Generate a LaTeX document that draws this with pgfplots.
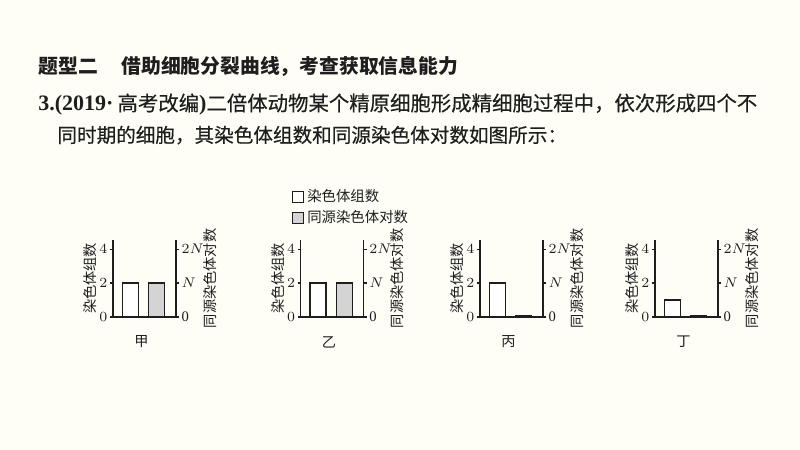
\documentclass[border=0pt]{standalone}
\usepackage{fontspec}
\setmainfont{Liberation Serif}
\newfontfamily\cjk{Noto Sans CJK SC}
\newfontfamily\cjkm{Noto Sans CJK SC}[FakeBold=0.4]
\usepackage{pgfplots}
\pgfplotsset{compat=1.18}
\definecolor{bg}{RGB}{254,254,247}
\definecolor{ink}{RGB}{30,30,30}
\definecolor{barg}{RGB}{212,212,212}
\newcommand{\cf}{\cjk\fontsize{7.1}{8}\selectfont}

\pgfplotsset{
  panel/.style={
    scale only axis, width=31.5pt, height=38.5pt,
    xmin=0.35, xmax=2.72, ymin=0,
    anchor=south west,
    xtick=\empty,
    tick align=outside, major tick length=1.6pt,
    axis line style={-, ink, line width=0.6pt},
    tick style={ink, line width=0.6pt},
    ticklabel style={font=\fontsize{7.3}{8}\selectfont, text=ink},
    yticklabel style={inner sep=1pt},
    ybar, bar width=8pt,
    clip=false,
  },
  leftp/.style={panel, ymax=4.54, ytick={0,2,4},
    axis y line*=left, axis x line*=bottom,
    every axis y label/.style={at={(axis description cs:-0.365,0.5)}, rotate=90, anchor=center, font=\cf, text=ink},
    every axis x label/.style={at={(axis description cs:0.45,-0.325)}, anchor=center, font=\cf, text=ink},
  },
  rightp/.style={panel, ymax=2.27, ytick={0,1,2}, yticklabels={0,$N$,$2N$},
    axis y line*=right, axis x line=none,
    every axis y label/.style={at={(axis description cs:1.535,0.5)}, rotate=90, anchor=center, font=\cf, text=ink},
  },
  sqleg/.style={legend image code/.code={\draw[##1, line width=0.5pt] (0pt,-2.6pt) rectangle (5.2pt,2.6pt);}},
}

\begin{document}
\begin{tikzpicture}
\fill[bg] (0,0) rectangle (400pt,225pt);
\useasboundingbox (0,0) rectangle (400pt,225pt);

\node[anchor=base west, inner sep=0pt, text=ink, font=\cjk\bfseries\fontsize{9.9}{12}\selectfont] at (19pt,188.3pt) {题型二\hspace{1.2em}借助细胞分裂曲线，考查获取信息能力};
\node[anchor=base west, inner sep=0pt, text=ink, font=\cjkm\fontsize{10.2}{12}\selectfont] at (19pt,169.6pt) {{\rmfamily\bfseries\fontsize{11}{12}\selectfont 3.(2019·\kern2pt}高考改编{\rmfamily\bfseries\fontsize{11}{12}\selectfont )}二倍体动物某个精原细胞形成精细胞过程中，依次形成四个不};
\node[anchor=base west, inner sep=0pt, text=ink, font=\cjkm\fontsize{9.8}{12}\selectfont] at (28.5pt,153.8pt) {同时期的细胞，其染色体组数和同源染色体对数如图所示：};

% panel 甲
\begin{axis}[leftp, at={(56.5pt,66.5pt)}, ylabel={染色体组数}, xlabel={甲}]
\addplot[fill=white, draw=ink, line width=0.6pt] coordinates {(1,2)};
\end{axis}
\begin{axis}[rightp, at={(56.5pt,66.5pt)}, ylabel={同源染色体对数}]
\addplot[fill=barg, draw=ink, line width=0.6pt] coordinates {(2,1)};
\end{axis}

% panel 乙
\begin{axis}[leftp, at={(150.35pt,66.5pt)}, ylabel={染色体组数}, xlabel={乙}]
\addplot[fill=white, draw=ink, line width=0.6pt] coordinates {(1,2)};
\end{axis}
\begin{axis}[rightp, at={(150.35pt,66.5pt)}, ylabel={同源染色体对数},
  legend style={at={(axis description cs:-0.14,1.66)}, anchor=north west, draw=none, fill=none,
    font=\cjk\fontsize{7.2}{8}\selectfont, text=ink, inner sep=0pt, row sep=3pt,
    nodes={inner sep=0pt, text height=6pt, text depth=1.5pt},
    /tikz/every odd column/.style={column sep=1.8pt}},
  legend cell align=left]
\addlegendimage{sqleg, fill=white, draw=ink}
\addlegendentry{染色体组数}
\addplot[sqleg, fill=barg, draw=ink, line width=0.6pt] coordinates {(2,1)};
\addlegendentry{同源染色体对数}
\end{axis}

% panel 丙
\begin{axis}[leftp, at={(240pt,66.5pt)}, ylabel={染色体组数}, xlabel={丙}]
\addplot[fill=white, draw=ink, line width=0.6pt] coordinates {(1,2)};
\end{axis}
\begin{axis}[rightp, at={(240pt,66.5pt)}, ylabel={同源染色体对数}]
\addplot[fill=barg, draw=ink, line width=0.6pt] coordinates {(2,0.04)};
\end{axis}

% panel 丁
\begin{axis}[leftp, at={(327.5pt,66.5pt)}, ylabel={染色体组数}, xlabel={丁}]
\addplot[fill=white, draw=ink, line width=0.6pt] coordinates {(1,1)};
\end{axis}
\begin{axis}[rightp, at={(327.5pt,66.5pt)}, ylabel={同源染色体对数}]
\addplot[fill=barg, draw=ink, line width=0.6pt] coordinates {(2,0.04)};
\end{axis}
\end{tikzpicture}
\end{document}
